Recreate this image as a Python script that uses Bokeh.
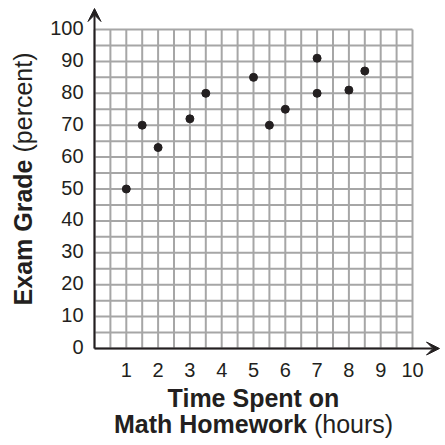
import numpy as np
from bokeh.plotting import figure
from bokeh.models import Arrow, VeeHead
from bokeh.core.properties import value
from bokeh.embed import file_html
from bokeh.resources import INLINE

# Data
hours = [1, 1.5, 2, 3, 3.5, 5, 5.5, 6, 7, 7, 8, 8.5]
grades = [50, 70, 63, 72, 80, 85, 70, 75, 91, 80, 81, 87]
x_ticks = [1, 2, 3, 4, 5, 6, 7, 8, 9, 10]
y_ticks = [0, 10, 20, 30, 40, 50, 60, 70, 80, 90, 100]
x_tick_labels = [str(t) for t in x_ticks]
y_tick_labels = [str(t) for t in y_ticks]

X_MAX, Y_MAX = 10, 100
FONT = value("Liberation Sans")
INK = "#231f20"
GRID = "#a6a6a6"

# canvas geometry: pixels per data unit
W = H = 445
LEFT, BOTTOM = 94, 97          # position of the origin from the left / bottom edge
PX = 318 / X_MAX               # px per hour
PY = 319 / Y_MAX               # px per percent

p = figure(width=W, height=H, output_backend="svg", toolbar_location=None,
           x_range=(-LEFT / PX, (W - LEFT) / PX), y_range=(-BOTTOM / PY, (H - BOTTOM) / PY),
           min_border=0, min_border_left=0, min_border_right=0,
           min_border_top=0, min_border_bottom=0)
p.outline_line_color = None
p.axis.visible = False
p.grid.visible = False

# graph-paper grid
vx = np.arange(0, X_MAX + 0.001, 0.5)
hy = np.arange(0, Y_MAX + 0.001, 5)
p.segment(x0=vx, y0=np.zeros_like(vx), x1=vx, y1=np.full_like(vx, Y_MAX),
          line_color=GRID, line_width=2)
p.segment(x0=np.zeros_like(hy), y0=hy, x1=np.full_like(hy, X_MAX), y1=hy,
          line_color=GRID, line_width=2)

# axes with arrows
x_tip = 345 / PX
y_tip = 340 / PY
p.add_layout(Arrow(x_start=0, y_start=0, x_end=x_tip, y_end=0, line_color=INK, line_width=2,
                   end=VeeHead(size=13, fill_color=INK, line_color=INK)))
p.add_layout(Arrow(x_start=0, y_start=0, x_end=0, y_end=y_tip, line_color=INK, line_width=2,
                   end=VeeHead(size=13, fill_color=INK, line_color=INK)))

# points
p.scatter(hours, grades, size=8, color=INK)

# tick labels
p.text(x=x_ticks, y=[-21 / PY] * len(x_ticks), text=x_tick_labels, text_font=FONT,
       text_font_size="20px", text_color=INK, text_align="center", text_baseline="middle")
p.text(x=[-11 / PX] * len(y_ticks), y=[t + 1.5 / PY for t in y_ticks], text=y_tick_labels,
       text_font=FONT, text_font_size="20px", text_color=INK, text_align="right",
       text_baseline="middle")

# axis titles (mixed bold / normal)
def lab(text, x, y, bold, align, angle=0.0, xo=0):
    p.text(x=[x], y=[y], text=[text], text_font=FONT, text_font_size="25px",
           text_font_style="bold" if bold else "normal", text_color=INK,
           text_align=align, text_baseline="middle", angle=angle, x_offset=xo)

lab("Time Spent on", 5, -49 / PY, True, "center")
lab("Math Homework", 5, -75 / PY, True, "right", xo=53.5)
lab("(hours)", 5, -75 / PY, False, "left", xo=60.4)
lab("Exam Grade", -71.5 / PX, 189 / PY, True, "right", angle=np.pi / 2)
lab("(percent)", -71.5 / PX, 196 / PY, False, "left", angle=np.pi / 2)

open("out.html", "w").write(file_html(p, INLINE))
